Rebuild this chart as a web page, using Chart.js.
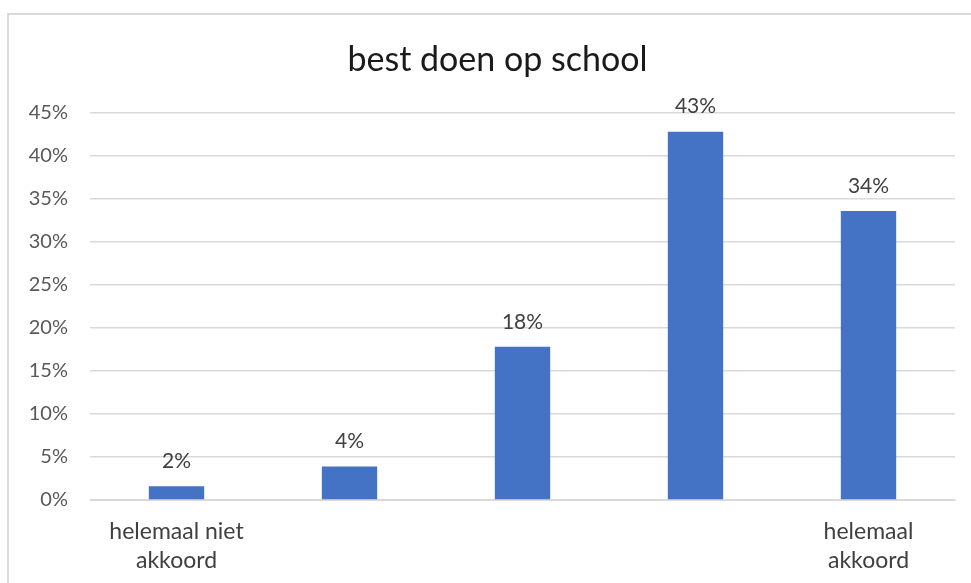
<!DOCTYPE html>
<html lang="nl">
<head>
    <meta charset="UTF-8">
    <title>best doen op school</title>
    <script src="https://cdn.jsdelivr.net/npm/chart.js"></script>
    <style>
        body {
            margin: 0;
            background-color: #ffffff;
            overflow: hidden;
        }

        #frame {
            position: absolute;
            left: 7px;
            top: 13px;
            width: 1100px;
            height: 800px;
            border: 2px solid #d9d9d9;
        }

        #wrap {
            position: absolute;
            left: 0;
            top: 0;
            width: 971px;
            height: 583px;
        }
    </style>
</head>
<body>
    <div id="frame"></div>
    <div id="wrap"><canvas id="schoolChart" width="971" height="583"></canvas></div>

    <script>
        // Data (fractions, shown as percentages).
        const categories = [['helemaal niet', 'akkoord'], '', '', '', ['helemaal', 'akkoord']];
        const shares = [0.016, 0.039, 0.178, 0.428, 0.336];
        const yTicks = [0, 0.05, 0.10, 0.15, 0.20, 0.25, 0.30, 0.35, 0.40, 0.45];
        const titleText = 'best doen op school';

        const fontFamily = 'Lato, "Open Sans", sans-serif';

        // Value above each bar, plus the title drawn a bit right of centre
        // (the original chart box runs past the right edge of the picture).
        const barLabels = {
            id: 'barLabels',
            afterDatasetsDraw(chart) {
                const c = chart.ctx;
                const meta = chart.getDatasetMeta(0);
                c.save();
                c.font = '21px ' + fontFamily;
                c.fillStyle = '#404040';
                c.textAlign = 'center';
                c.textBaseline = 'middle';
                meta.data.forEach((bar, i) => {
                    const txt = Math.round(shares[i] * 100) + '%';
                    c.fillText(txt, bar.x, bar.y - 25);
                });

                const tb = chart.titleBlock;
                const opts = tb.options;
                c.font = opts.font.size + 'px ' + fontFamily;
                c.fillStyle = '#1a1a1a';
                const midY = tb.top + opts.padding.top + opts.font.size * 0.6;
                c.fillText(titleText, chart.width / 2 + 12, midY);
                c.restore();
            }
        };

        const ctx = document.getElementById('schoolChart').getContext('2d');
        const schoolChart = new Chart(ctx, {
            type: 'bar',
            data: {
                labels: categories,
                datasets: [{
                    label: 'best doen op school',
                    data: shares,
                    backgroundColor: '#4472C4',
                    borderWidth: 0,
                    barPercentage: 0.32,
                    categoryPercentage: 1.0
                }]
            },
            options: {
                responsive: false,
                animation: false,
                layout: {
                    padding: { left: 0, right: 16, top: 0, bottom: 0 }
                },
                plugins: {
                    legend: { display: false },
                    tooltip: { enabled: false },
                    // title block only reserves the space; text drawn by barLabels
                    title: {
                        display: true,
                        text: titleText,
                        color: 'rgba(0,0,0,0)',
                        font: { family: fontFamily, size: 34, weight: 'normal' },
                        padding: { top: 40, bottom: 32 }
                    }
                },
                scales: {
                    x: {
                        afterFit(scale) { scale.height = 83; },
                        grid: { display: false, drawTicks: false },
                        border: { display: true, color: '#d9d9d9', width: 1 },
                        ticks: {
                            color: '#404040',
                            padding: 17,
                            maxRotation: 0,
                            autoSkip: false,
                            font: { family: fontFamily, size: 23, lineHeight: 1.26 }
                        }
                    },
                    y: {
                        min: 0,
                        max: 0.45,
                        afterFit(scale) { scale.width = 90; },
                        afterBuildTicks(scale) {
                            scale.ticks = yTicks.map(v => ({ value: v }));
                        },
                        border: { display: false },
                        grid: { color: '#d9d9d9', lineWidth: 1.5, drawTicks: false },
                        ticks: {
                            color: '#595959',
                            padding: 22,
                            font: { family: fontFamily, size: 20 },
                            callback: v => Math.round(v * 100) + '%'
                        }
                    }
                }
            },
            plugins: [barLabels]
        });
    </script>
</body>
</html>
